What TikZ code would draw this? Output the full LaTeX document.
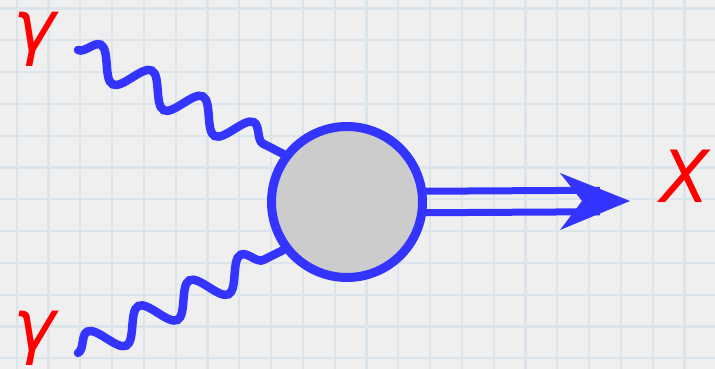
\documentclass[tikz,border=0pt]{standalone}
\usepackage{fontspec}
\newfontfamily\handfont{DejaVu Sans}
\usetikzlibrary{decorations.pathmorphing}
\definecolor{photonblue}{RGB}{52,52,255}
\definecolor{labelred}{RGB}{255,0,0}
\definecolor{papergray}{RGB}{239,239,239}
\definecolor{gridblue}{RGB}{218,228,234}
\definecolor{blobgray}{RGB}{204,204,204}

\begin{document}
\begin{tikzpicture}[x=1pt, y=-1pt,
        gridline/.style={gridblue, line width=2.2pt},
        photon/.style={photonblue, line width=8.5pt, line cap=round, decorate,
            decoration={snake, amplitude=15pt, segment length=57.2pt}},
        blob/.style={circle, draw=photonblue, fill=blobgray, line width=9pt,
            minimum size=151pt, inner sep=0pt},
        dbl/.style={photonblue, line width=7pt},
        plabel/.style={labelred, inner sep=0pt, font=\handfont\itshape\fontsize{72}{72}\selectfont}]
    % Karopapier
    \useasboundingbox (0,0) rectangle (715,369);
    \fill[papergray] (0,0) rectangle (715,369);
    \foreach \gx in {0,...,22} \draw[gridline] ({16.6+31.8*\gx},0) -- ({16.6+31.8*\gx},369);
    \foreach \gy in {0,...,11} \draw[gridline] (0,{8.5+31.8*\gy}) -- (715,{8.5+31.8*\gy});
    % Vertex
    \node[blob] (blob) at (347,202) {};
    % Photonen
    \coordinate (g1) at (78,50);
    \coordinate (g2) at (78,353);
    \draw[photon] (g1) -- (blob.143);
    \draw[photon] (g2) -- (blob.217);
    % Doppelpfeil
    \coordinate (tip) at (630,201);
    \draw[dbl] ([shift={(-3,-10.75)}]blob.east) -- ([shift={(-30,-10.75)}]tip);
    \draw[dbl] ([shift={(-3,10.75)}]blob.east) -- ([shift={(-30,10.75)}]tip);
    \fill[photonblue] (tip) -- ++(-70,-28) -- ++(22,28) -- ++(-22,29) -- cycle;
    % Beschriftung
    \node[plabel] (gamma1) at (35,39) {γ};
    \node[plabel] (gamma2) at (35,338) {γ};
    \node[plabel] (xlabel) at (685,176) {X};
\end{tikzpicture}
\end{document}
